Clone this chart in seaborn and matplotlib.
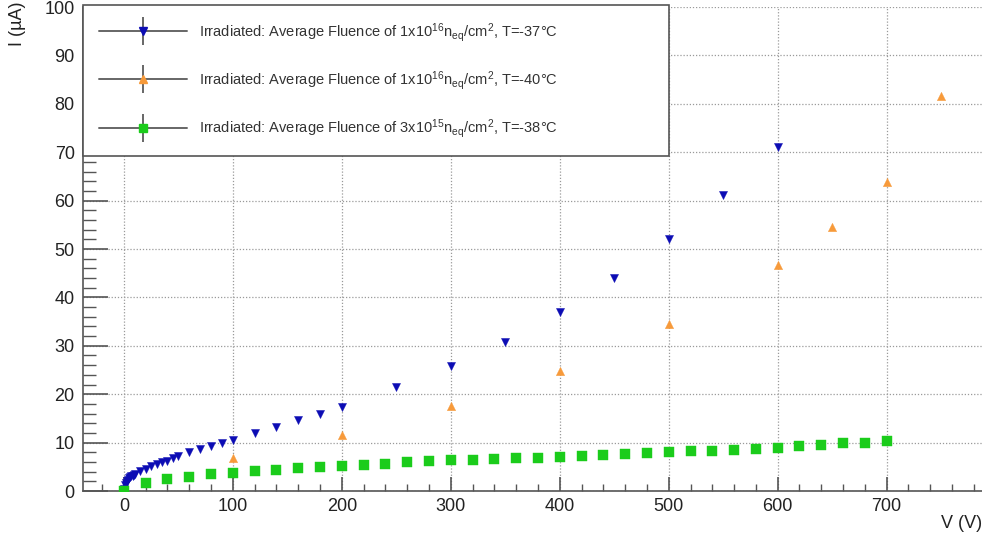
import matplotlib
matplotlib.use("Agg")
import matplotlib.pyplot as plt
import seaborn as sns
import numpy as np
from matplotlib.lines import Line2D
from matplotlib.legend_handler import HandlerTuple
from matplotlib.ticker import MultipleLocator

# --- data ---
v_37 = [0, 1, 2, 3, 4, 5, 6, 7, 8, 9, 10, 15, 20, 25, 30, 35, 40, 45, 50,
        60, 70, 80, 90, 100, 120, 140, 160, 180, 200, 250, 300, 350, 400,
        450, 500, 550, 600]
i_37 = [0.5, 1.2, 1.6, 2.0, 2.3, 2.6, 2.8, 3.0, 3.2, 3.4, 3.6, 4.2, 4.6, 5.1,
        5.5, 5.9, 6.3, 6.8, 7.2, 8.0, 8.7, 9.3, 10.0, 10.5, 11.9, 13.2, 14.7,
        16.0, 17.4, 21.4, 25.8, 30.8, 37.0, 44.1, 52.1, 61.2, 71.1]

v_40 = [100, 200, 300, 400, 500, 600, 650, 700, 750]
i_40 = [6.9, 11.6, 17.6, 24.8, 34.6, 46.7, 54.5, 63.8, 81.7]

v_38 = [0, 20, 40, 60, 80, 100, 120, 140, 160, 180, 200, 220, 240, 260, 280,
        300, 320, 340, 360, 380, 400, 420, 440, 460, 480, 500, 520, 540, 560,
        580, 600, 620, 640, 660, 680, 700]
i_38 = [0.0, 1.7, 2.4, 2.95, 3.45, 3.75, 4.05, 4.4, 4.75, 4.95, 5.25, 5.45,
        5.6, 6.0, 6.2, 6.4, 6.5, 6.55, 6.75, 6.9, 7.1, 7.3, 7.5, 7.6, 7.85,
        8.0, 8.2, 8.3, 8.5, 8.7, 8.95, 9.3, 9.5, 9.85, 10.0, 10.4]

labels = [
    r"Irradiated: Average Fluence of 1x10$^{16}$n$_{eq}$/cm$^{2}$, T=-37°C",
    r"Irradiated: Average Fluence of 1x10$^{16}$n$_{eq}$/cm$^{2}$, T=-40°C",
    r"Irradiated: Average Fluence of 3x10$^{15}$n$_{eq}$/cm$^{2}$, T=-38°C",
]
colors = ["#0c0cb4", "#f79a3a", "#1bcc1b"]
markers = ["v", "^", "s"]
sizes = [34, 36, 46]

sns.set_theme(style="white")
plt.rcParams["font.family"] = ["Liberation Sans", "DejaVu Sans"]
plt.rcParams["mathtext.fontset"] = "custom"
plt.rcParams["mathtext.rm"] = "Liberation Sans"
plt.rcParams["mathtext.it"] = "Liberation Sans"
plt.rcParams["mathtext.default"] = "regular"

fig = plt.figure(figsize=(9.82, 5.40), dpi=100)
ax = fig.add_axes([83 / 982, 1 - 491 / 540, 1 - 83 / 982, (491 - 7) / 540])

for x, y, c, m, s in zip([v_37, v_40, v_38], [i_37, i_40, i_38], colors, markers, sizes):
    sns.scatterplot(x=x, y=y, ax=ax, color=c, marker=m, s=s,
                    edgecolor=c, linewidth=0.3, zorder=3, legend=False)

ax.set_xlim(-37.5, 787.5)
ax.set_ylim(0, 100)
ax.xaxis.set_major_locator(MultipleLocator(100))
ax.xaxis.set_minor_locator(MultipleLocator(20))
ax.yaxis.set_major_locator(MultipleLocator(10))
ax.yaxis.set_minor_locator(MultipleLocator(2))
ax.set_xticks([0, 100, 200, 300, 400, 500, 600, 700])

ax.grid(True, which="major", linestyle=(0, (1, 1.5)), color="#9a9a9a", linewidth=0.9)
ax.set_axisbelow(True)

for side in ["top", "right"]:
    ax.spines[side].set_visible(False)
for side in ["left", "bottom"]:
    ax.spines[side].set_color("#555555")
    ax.spines[side].set_linewidth(1.2)

ax.tick_params(axis="x", which="major", direction="in", length=10, width=1.2,
               color="#555555", labelsize=13, labelcolor="#222222", pad=5)
ax.tick_params(axis="x", which="minor", direction="in", length=5, width=1.0, color="#555555")
ax.tick_params(axis="y", which="major", direction="in", length=18, width=1.2,
               color="#555555", labelsize=13, labelcolor="#222222", pad=6)
ax.tick_params(axis="y", which="minor", direction="in", length=9, width=1.0, color="#555555")
ax.tick_params(bottom=True, left=True, which="both")

fig.text(982 / 982, 1 - 524 / 540, "V (V)", ha="right", va="center",
         fontsize=13, color="#222222")
fig.text(18 / 982, 1 - 1 / 540, "I (µA)", ha="center", va="top", rotation=90,
         fontsize=13, color="#222222")

handles = []
for c, m in zip(colors, markers):
    hline = Line2D([], [], color="#666666", lw=1.4)
    vbar = Line2D([], [], color="#666666", marker="|", markersize=20,
                  markeredgewidth=1.4, linestyle="none")
    mk = Line2D([], [], color=c, marker=m, markersize=6, linestyle="none")
    handles.append((hline, vbar, mk))

leg = ax.legend(handles, labels, handler_map={tuple: HandlerTuple(ndivide=1, pad=0)},
                loc="upper left", bbox_to_anchor=(0, 1.005, 0.652, 0.0), mode="expand",
                fontsize=10.5, frameon=True, fancybox=False, framealpha=1,
                edgecolor="#555555", handlelength=6.0, handletextpad=0.85,
                labelspacing=1.75, borderpad=1.1, borderaxespad=0.0)
leg.get_frame().set_linewidth(1.2)
for t in leg.get_texts():
    t.set_color("#333333")
leg.set_zorder(5)

fig.savefig("out.png", dpi=100)
